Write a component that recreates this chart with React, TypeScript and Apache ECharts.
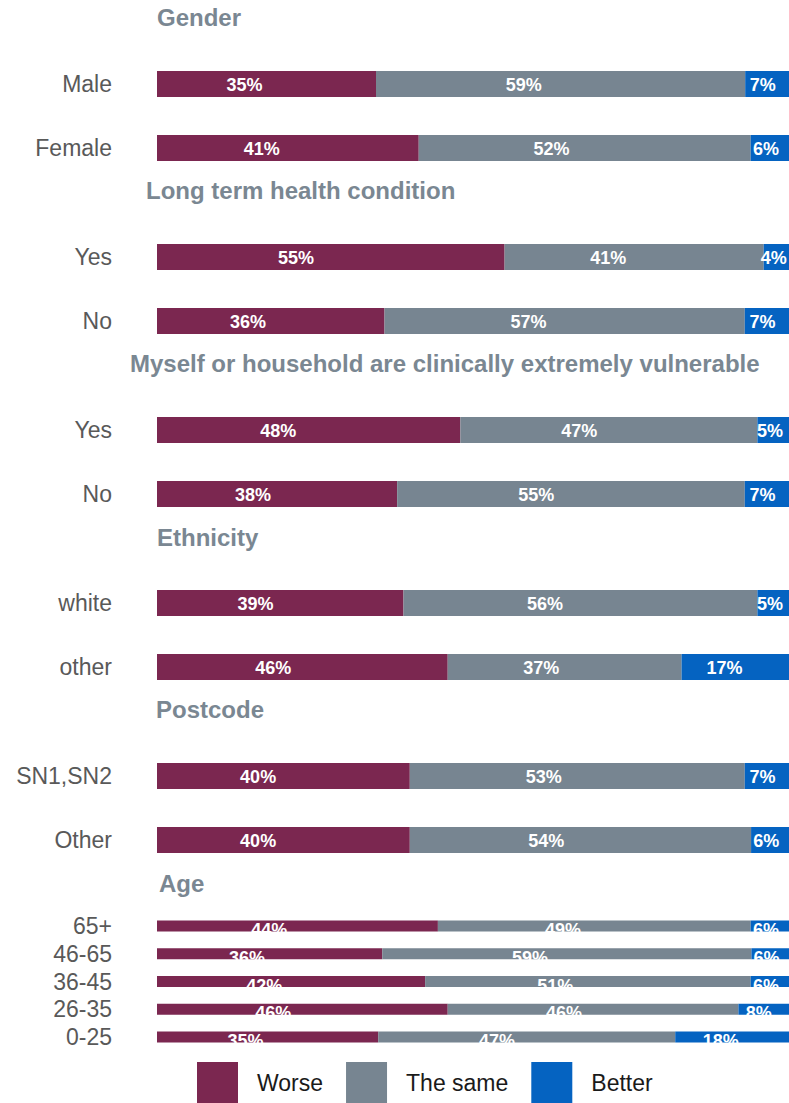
import React, { useEffect, useRef } from "react";
import * as echarts from "echarts";

const groupTitles = [
  "Gender",
  "Long term health condition",
  "Myself or household are clinically extremely vulnerable",
  "Ethnicity",
  "Postcode",
  "Age",
];

const genderCats = ["Male", "Female"];
const genderWorse = [35, 41];
const genderSame = [59, 52];
const genderBetter = [7, 6];

const healthCats = ["Yes", "No"];
const healthWorse = [55, 36];
const healthSame = [41, 57];
const healthBetter = [4, 7];

const cevCats = ["Yes", "No"];
const cevWorse = [48, 38];
const cevSame = [47, 55];
const cevBetter = [5, 7];

const ethnicityCats = ["white", "other"];
const ethnicityWorse = [39, 46];
const ethnicitySame = [56, 37];
const ethnicityBetter = [5, 17];

const postcodeCats = ["SN1,SN2", "Other"];
const postcodeWorse = [40, 40];
const postcodeSame = [53, 54];
const postcodeBetter = [7, 6];

const ageCats = ["65+", "46-65", "36-45", "26-35", "0-25"];
const ageWorse = [44, 36, 42, 46, 35];
const ageSame = [49, 59, 51, 46, 47];
const ageBetter = [6, 6, 6, 8, 18];

const seriesNames = ["Worse", "The same", "Better"];

const groupData = [
  { cats: genderCats, vals: [genderWorse, genderSame, genderBetter] },
  { cats: healthCats, vals: [healthWorse, healthSame, healthBetter] },
  { cats: cevCats, vals: [cevWorse, cevSame, cevBetter] },
  { cats: ethnicityCats, vals: [ethnicityWorse, ethnicitySame, ethnicityBetter] },
  { cats: postcodeCats, vals: [postcodeWorse, postcodeSame, postcodeBetter] },
  { cats: ageCats, vals: [ageWorse, ageSame, ageBetter] },
];

const COLORS = ["#7B2750", "#778591", "#0563C1"];
const FONT = '"Liberation Sans", Arial, sans-serif';
const TITLE_X = [157, 146, 130, 157, 156, 159];
const TITLE_Y = [17, 190, 363, 537, 709, 883];

export default function App() {
  const ref = useRef<HTMLDivElement>(null);

  useEffect(() => {
    document.body.style.margin = "0";
    if (!ref.current) return;
    const chart = echarts.init(ref.current, null, { renderer: "svg" });

    const grids: any[] = [];
    const xAxes: any[] = [];
    const yAxes: any[] = [];
    const series: any[] = [];

    groupData.forEach((g, gi) => {
      const isAge = gi === 5;
      const top = isAge ? 912 : 52 + 173 * gi;
      const height = isAge ? 139 : 128;
      grids.push({ left: 157, right: 0, top, height, containLabel: false });
      xAxes.push({
        gridIndex: gi,
        type: "value",
        min: 0,
        max: 1,
        show: false,
      });
      yAxes.push({
        gridIndex: gi,
        type: "category",
        inverse: true,
        data: g.cats,
        axisLine: { show: false },
        axisTick: { show: false },
        splitLine: { show: false },
        axisLabel: {
          interval: 0,
          color: "#595959",
          fontSize: 23,
          fontFamily: FONT,
          margin: 45,
        },
      });
      const totals = g.cats.map((_, ri) =>
        g.vals.reduce((s, arr) => s + arr[ri], 0)
      );
      g.vals.forEach((arr, si) => {
        series.push({
          name: seriesNames[si],
          type: "bar",
          stack: "g" + gi,
          xAxisIndex: gi,
          yAxisIndex: gi,
          barWidth: isAge ? 11 : 26,
          itemStyle: { color: COLORS[si] },
          label: {
            show: true,
            position: ["40%", "50%"],
            align: "center",
            verticalAlign: "middle",
            color: "#ffffff",
            fontWeight: "bold",
            fontSize: 18,
            fontFamily: FONT,
            offset: isAge ? [0, 4] : [0, 1],
            formatter: (p: any) => p.data.raw + "%",
          },
          data: arr.map((v, ri) => ({ value: v / totals[ri], raw: v })),
        });
      });
    });

    const graphics = groupTitles.map((t, i) => ({
      type: "text",
      x: TITLE_X[i],
      y: TITLE_Y[i],
      style: {
        text: t,
        fill: "#7A8792",
        fontSize: 24,
        fontWeight: "bold",
        fontFamily: FONT,
        align: "left",
        verticalAlign: "middle",
      },
    }));

    chart.setOption({
      animation: false,
      grid: grids,
      xAxis: xAxes,
      yAxis: yAxes,
      series,
      graphic: graphics,
      legend: {
        data: seriesNames,
        left: 197,
        top: 1062,
        padding: 0,
        itemWidth: 41,
        itemHeight: 41,
        itemGap: 23,
        icon: "rect",
        textStyle: {
          fontSize: 23,
          color: "#1a1a1a",
          fontFamily: FONT,
          padding: [0, 0, 0, 14],
        },
      },
    });

    return () => chart.dispose();
  }, []);

  return <div ref={ref} style={{ width: 789, height: 1103 }} />;
}
